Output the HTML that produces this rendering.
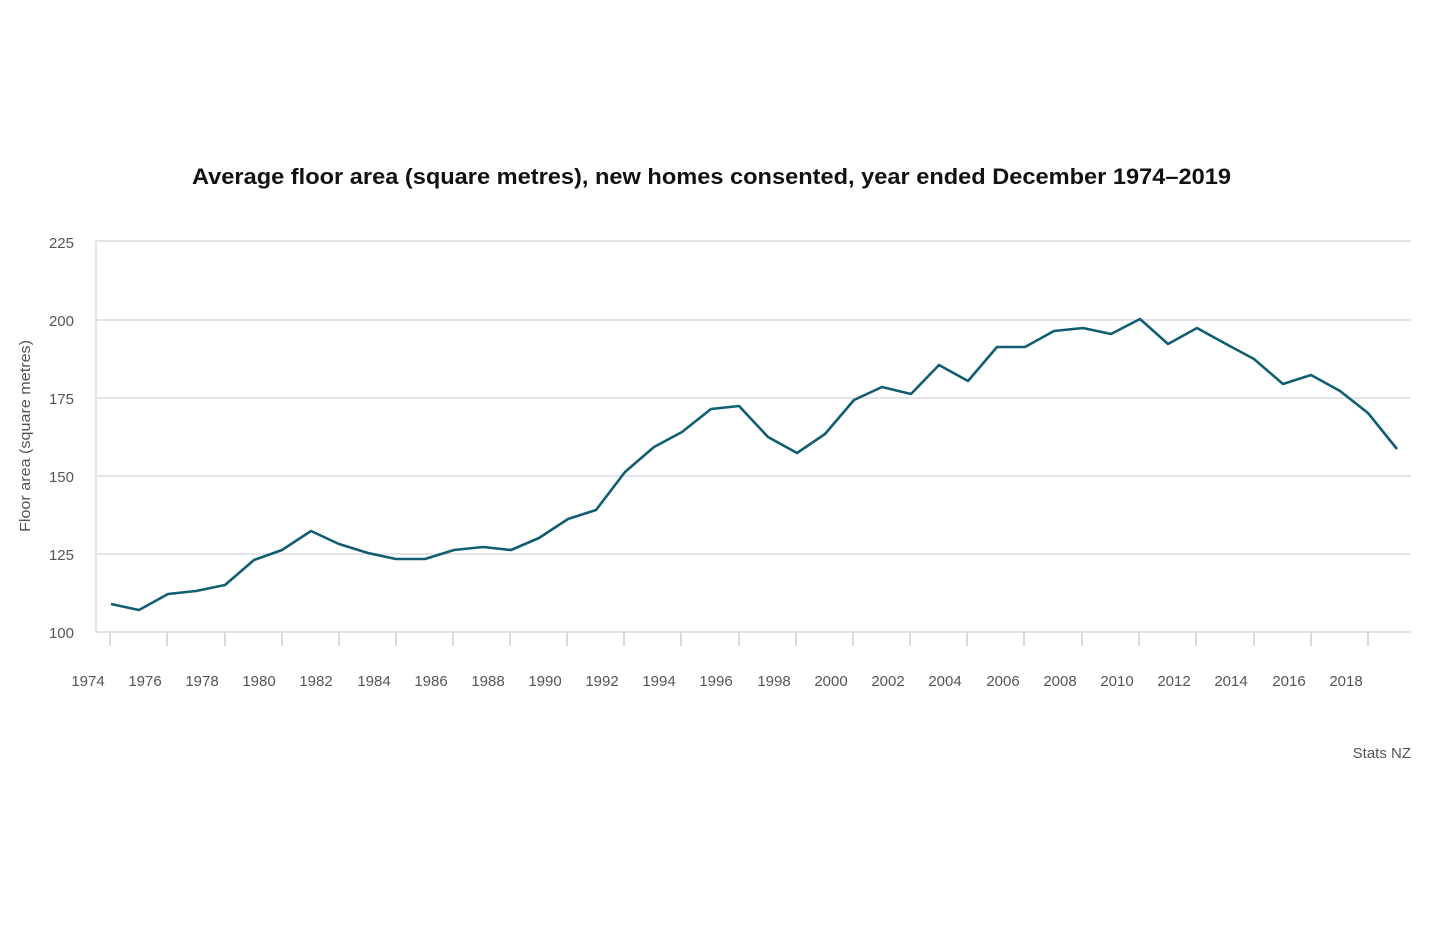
<!DOCTYPE html>
<html><head><style>
html,body{margin:0;padding:0;background:#fff;width:1440px;height:928px;overflow:hidden}
svg{display:block}
text{font-family:"Liberation Sans",sans-serif}
</style></head><body>
<svg width="1440" height="928" viewBox="0 0 1440 928">
<text x="192" y="184" textLength="1039" lengthAdjust="spacingAndGlyphs" font-size="22" font-weight="bold" fill="#111">Average floor area (square metres), new homes consented, year ended December 1974–2019</text>
<g stroke="#e3e3e8" stroke-width="2">
<line x1="96" x2="1411" y1="241" y2="241"/>
<line x1="96" x2="1411" y1="320" y2="320"/>
<line x1="96" x2="1411" y1="398" y2="398"/>
<line x1="96" x2="1411" y1="476" y2="476"/>
<line x1="96" x2="1411" y1="554" y2="554"/>
<line x1="96" x2="1411" y1="632" y2="632"/>
<line x1="96" x2="96" y1="241" y2="632"/>
</g>
<g stroke="#d8d8dd" stroke-width="2">
<line x1="110" x2="110" y1="632" y2="646"/><line x1="167" x2="167" y1="632" y2="646"/><line x1="225" x2="225" y1="632" y2="646"/><line x1="282" x2="282" y1="632" y2="646"/><line x1="339" x2="339" y1="632" y2="646"/><line x1="396" x2="396" y1="632" y2="646"/><line x1="453" x2="453" y1="632" y2="646"/><line x1="510" x2="510" y1="632" y2="646"/><line x1="567" x2="567" y1="632" y2="646"/><line x1="624" x2="624" y1="632" y2="646"/><line x1="681" x2="681" y1="632" y2="646"/><line x1="739" x2="739" y1="632" y2="646"/><line x1="796" x2="796" y1="632" y2="646"/><line x1="853" x2="853" y1="632" y2="646"/><line x1="910" x2="910" y1="632" y2="646"/><line x1="967" x2="967" y1="632" y2="646"/><line x1="1024" x2="1024" y1="632" y2="646"/><line x1="1082" x2="1082" y1="632" y2="646"/><line x1="1139" x2="1139" y1="632" y2="646"/><line x1="1196" x2="1196" y1="632" y2="646"/><line x1="1254" x2="1254" y1="632" y2="646"/><line x1="1311" x2="1311" y1="632" y2="646"/><line x1="1368" x2="1368" y1="632" y2="646"/>
</g>
<g font-size="15" fill="#555" text-anchor="end">
<text x="74" y="248">225</text><text x="74" y="326">200</text><text x="74" y="404">175</text><text x="74" y="482">150</text><text x="74" y="560">125</text><text x="74" y="638">100</text>
</g>
<g font-size="15" fill="#555" text-anchor="middle">
<text x="88" y="686">1974</text><text x="145" y="686">1976</text><text x="202" y="686">1978</text><text x="259" y="686">1980</text><text x="316" y="686">1982</text><text x="374" y="686">1984</text><text x="431" y="686">1986</text><text x="488" y="686">1988</text><text x="545" y="686">1990</text><text x="602" y="686">1992</text><text x="659" y="686">1994</text><text x="716" y="686">1996</text><text x="774" y="686">1998</text><text x="831" y="686">2000</text><text x="888" y="686">2002</text><text x="945" y="686">2004</text><text x="1003" y="686">2006</text><text x="1060" y="686">2008</text><text x="1117" y="686">2010</text><text x="1174" y="686">2012</text><text x="1231" y="686">2014</text><text x="1289" y="686">2016</text><text x="1346" y="686">2018</text>
</g>
<text transform="translate(30,532) rotate(-90)" textLength="192" lengthAdjust="spacingAndGlyphs" font-size="15" fill="#555">Floor area (square metres)</text>
<text x="1411" y="758" text-anchor="end" font-size="15" fill="#555">Stats NZ</text>
<polyline fill="none" stroke="#115e73" stroke-width="2.6" stroke-linejoin="round" points="111,604 139,610 168,594 196,591 225,585 254,560 282,550 311,531 339,544 368,553 396,559 425,559 454,550 483,547 511,550 539,538 568,519 596,510 625,472 654,447 682,432 711,409 739,406 768,437 797,453 825,434 854,400 882,387 911,394 939,365 968,381 997,347 1025,347 1054,331 1083,328 1111,334 1140,319 1168,344 1197,328 1226,344 1254,359 1283,384 1311,375 1340,391 1368,413 1397,449"/>
</svg>
</body></html>
